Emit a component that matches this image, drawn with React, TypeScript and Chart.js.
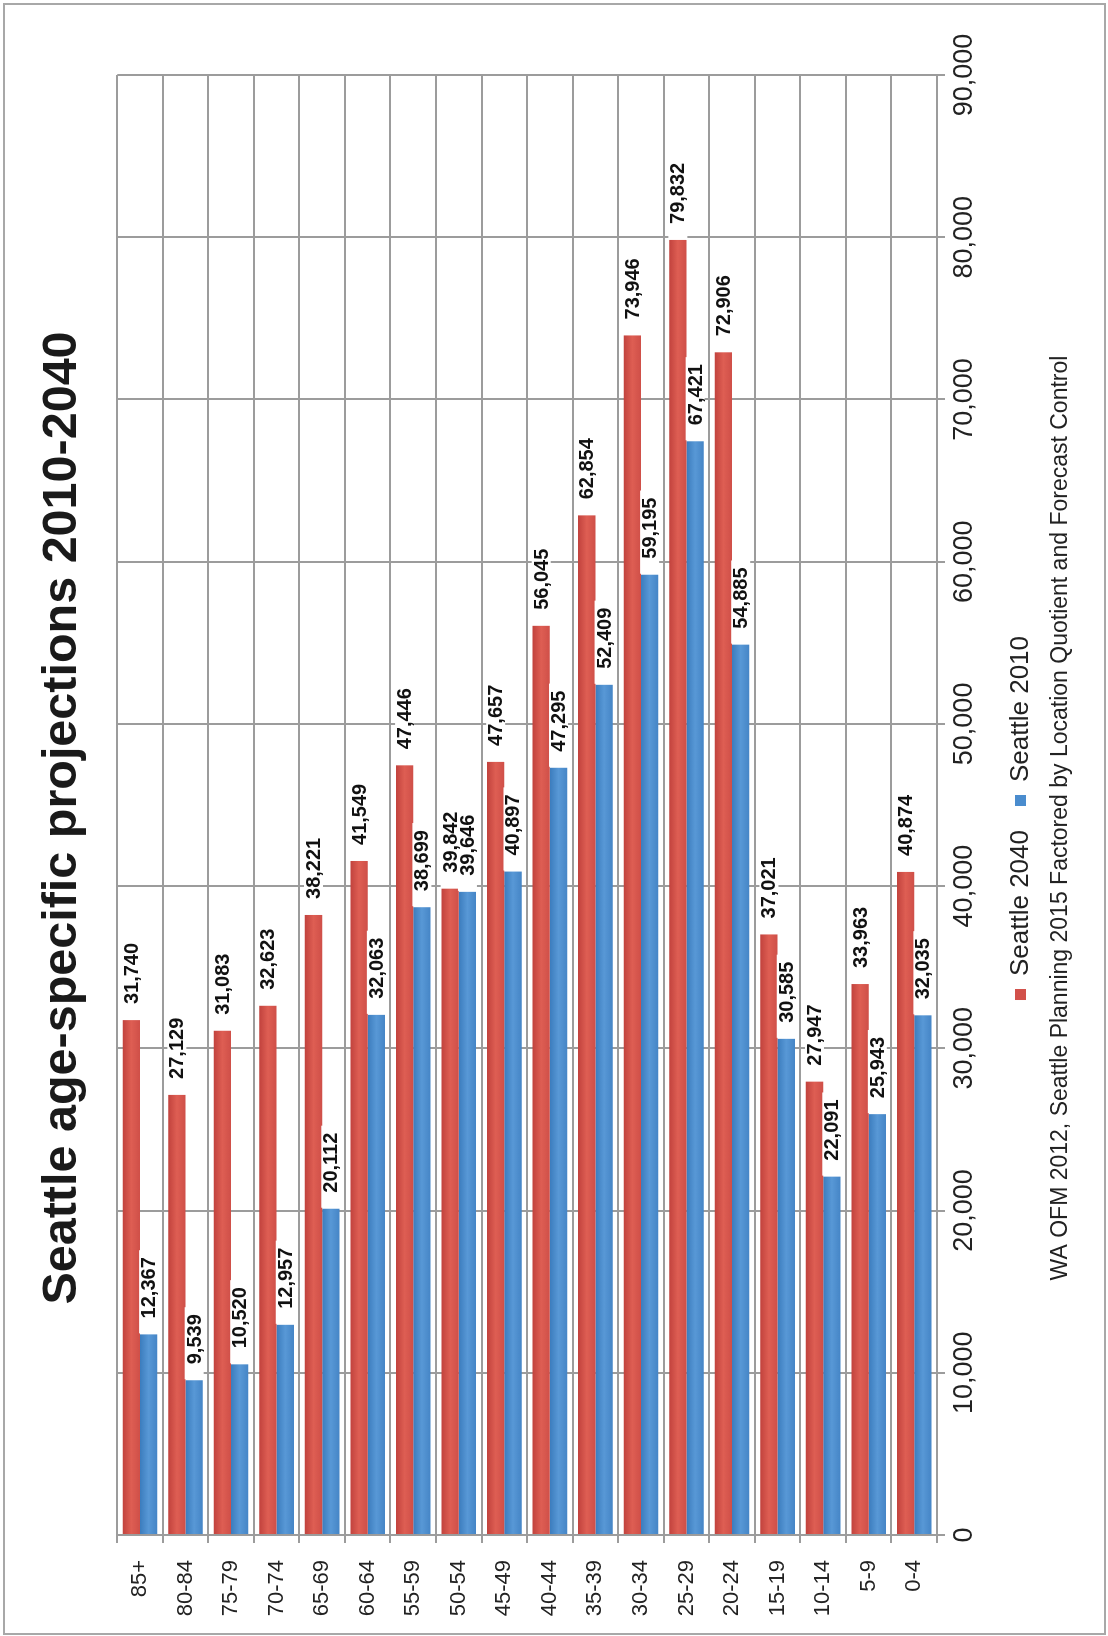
import React, { useEffect, useRef } from 'react';
import { Chart, registerables } from 'chart.js';

Chart.register(...registerables);

// ---- data ----
const categories = ['85+', '80-84', '75-79', '70-74', '65-69', '60-64', '55-59', '50-54', '45-49', '40-44', '35-39', '30-34', '25-29', '20-24', '15-19', '10-14', '5-9', '0-4'];
const seattle2040 = [31740, 27129, 31083, 32623, 38221, 41549, 47446, 39842, 47657, 56045, 62854, 73946, 79832, 72906, 37021, 27947, 33963, 40874];
const seattle2010 = [12367, 9539, 10520, 12957, 20112, 32063, 38699, 39646, 40897, 47295, 52409, 59195, 67421, 54885, 30585, 22091, 25943, 32035];
const seriesNames = ['Seattle 2040', 'Seattle 2010'];
const valueMin = 0;
const valueMax = 90000;
const valueStep = 10000;
const titleText = 'Seattle age-specific projections 2010-2040';
const sourceText = 'WA OFM 2012, Seattle Planning 2015 Factored by Location Quotient and Forecast Control';

// ---- style ----
const W = 1636; // unrotated canvas width (becomes page height)
const H = 1108; // unrotated canvas height (becomes page width)
const FONT = '"Liberation Sans", Arial, sans-serif';
const GRID = '#9c9c9c';
const CAT_PCT = 0.76;
const solid = ['#d2504a', '#4a8cce'];
const shades = [
  ['#c1423d', '#de5e53', '#cf4f48'],
  ['#3b7cbd', '#5898d6', '#4585c6'],
];

const fmt = (v: number) => String(v).replace(/\B(?=(\d{3})+(?!\d))/g, ',');

const barFill = (di: number) => (c: any) => {
  const chart = c.chart;
  const ys = chart.scales && chart.scales.y;
  if (!ys || !chart.chartArea || c.type !== 'data' || !isFinite(ys.top)) return solid[di];
  const center = ys.getPixelForValue(c.dataIndex);
  const cat = (ys.bottom - ys.top) / categories.length;
  const bar = (cat * CAT_PCT) / 2;
  const top = di === 0 ? center - bar : center;
  const g = chart.ctx.createLinearGradient(0, top, 0, top + bar);
  g.addColorStop(0, shades[di][0]);
  g.addColorStop(0.5, shades[di][1]);
  g.addColorStop(1, shades[di][2]);
  return g;
};

const barLabels = {
  id: 'barLabels',
  afterDatasetsDraw(chart: any) {
    const ctx = chart.ctx;
    ctx.save();
    ctx.font = `bold 20px ${FONT}`;
    ctx.textBaseline = 'middle';
    ctx.textAlign = 'left';
    const items: any[] = [];
    chart.data.datasets.forEach((ds: any, di: number) => {
      const meta = chart.getDatasetMeta(di);
      meta.data.forEach((bar: any, i: number) => {
        const { x, y } = bar.getProps(['x', 'y'], true);
        const txt = fmt(ds.data[i]);
        const w = ctx.measureText(txt).width;
        items.push({ x, y, txt, w });
      });
    });
    ctx.fillStyle = '#ffffff';
    items.forEach((it) => ctx.fillRect(it.x + 1, it.y - 9.5, it.w + 22, 19));
    ctx.fillStyle = '#111111';
    items.forEach((it) => ctx.fillText(it.txt, it.x + 16, it.y + 1));
    ctx.restore();
  },
};

export default function App() {
  const ref = useRef<HTMLCanvasElement>(null);

  useEffect(() => {
    document.body.style.margin = '0';
    if (!ref.current) return;
    const chart = new Chart(ref.current, {
      type: 'bar',
      data: {
        labels: categories,
        datasets: [
          { label: seriesNames[0], data: seattle2040, backgroundColor: barFill(0) as any, borderWidth: 0 },
          { label: seriesNames[1], data: seattle2010, backgroundColor: barFill(1) as any, borderWidth: 0 },
        ],
      },
      options: {
        indexAxis: 'y',
        responsive: false,
        animation: false,
        devicePixelRatio: 1,
        layout: { padding: { left: 75, right: 75, top: 0, bottom: 34 } },
        datasets: { bar: { categoryPercentage: CAT_PCT, barPercentage: 1.0 } },
        scales: {
          x: {
            min: valueMin,
            max: valueMax,
            ticks: {
              stepSize: valueStep,
              font: { family: FONT, size: 27 },
              color: '#222',
              padding: 3,
              callback: (v: any) => fmt(Number(v)),
            },
            grid: { color: GRID, lineWidth: 2, tickLength: 8 },
            border: { color: GRID, width: 2 },
          },
          y: {
            ticks: { font: { family: FONT, size: 22 }, color: '#222', padding: 17, autoSkip: false },
            grid: { color: GRID, lineWidth: 2, tickLength: 8, offset: true },
            border: { color: GRID, width: 2 },
            afterFit: (s: any) => {
              // narrow axis box; labels are allowed to extend into the outer padding
              s.width = 26;
              s._computeLabelArea = () => undefined;
            },
          },
        },
        plugins: {
          title: {
            display: true,
            text: titleText,
            font: { family: FONT, size: 48.5, weight: 'bold' },
            color: '#1a1a1a',
            padding: { top: 34, bottom: 25 },
          },
          legend: {
            display: true,
            position: 'bottom',
            labels: {
              boxWidth: 11,
              boxHeight: 11,
              padding: 24,
              color: '#222',
              font: { family: FONT, size: 26 },
              generateLabels: (c: any) =>
                (Chart.defaults.plugins.legend.labels as any)
                  .generateLabels(c)
                  .map((l: any, i: number) => ({ ...l, fillStyle: solid[i], strokeStyle: solid[i], lineWidth: 0 })),
            },
          },
          subtitle: {
            display: true,
            position: 'bottom',
            text: sourceText,
            font: { family: FONT, size: 23 },
            color: '#222',
            padding: { top: 3, bottom: 0 },
          },
          tooltip: { enabled: false },
        },
      },
      plugins: [barLabels],
    });
    return () => chart.destroy();
  }, []);

  return (
    <div style={{ position: 'absolute', left: 0, top: 0, width: H, height: W, overflow: 'hidden', background: '#fff' }}>
      <div
        style={{
          position: 'absolute',
          left: 0,
          top: 0,
          width: W,
          height: H,
          transformOrigin: '0 0',
          transform: `translateY(${W}px) rotate(-90deg)`,
        }}
      >
        <canvas ref={ref} width={W} height={H} style={{ display: 'block', width: W, height: H }} />
      </div>
      <div
        style={{
          position: 'absolute',
          left: 3,
          top: 3,
          width: 1103,
          height: 1632,
          boxSizing: 'border-box',
          border: '2px solid #a8a8a8',
          pointerEvents: 'none',
        }}
      />
    </div>
  );
}
